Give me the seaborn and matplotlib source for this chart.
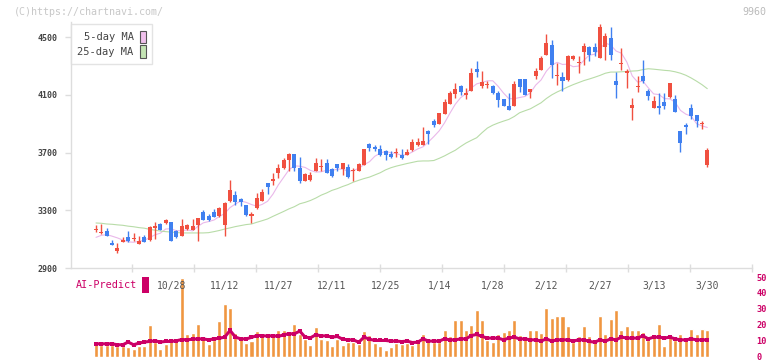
import numpy as np
import pandas as pd
import matplotlib
matplotlib.use("Agg")
import matplotlib.pyplot as plt
from matplotlib.patches import Patch, Rectangle
from matplotlib.ticker import FixedLocator, NullFormatter
import seaborn as sns

# ---- data (price in yen, volume / AI-Predict on 0-50 scale) ----
opens = [3160, 3146, 3153, 3074, 3015, 3079, 3113, 3102, 3063, 3116,
         3095, 3180, 3203, 3215, 3217, 3153, 3125, 3171, 3166, 3199,
         3290, 3258, 3290, 3258, 3201, 3362, 3405, 3378, 3336, 3258,
         3316, 3362, 3486, 3504, 3557, 3596, 3647, 3688, 3596, 3504,
         3509, 3573, 3603, 3631, 3585, 3619, 3585, 3603, 3573, 3573,
         3615, 3757, 3739, 3727, 3711, 3688, 3697, 3684, 3681, 3716,
         3750, 3753, 3849, 3922, 3895, 3964, 4038, 4109, 4164, 4102,
         4130, 4281, 4159, 4166, 4159, 4113, 4068, 4026, 4022, 4212,
         4212, 4120, 4228, 4274, 4378, 4447, 4233, 4221, 4201, 4348,
         4320, 4394, 4435, 4431, 4355, 4431, 4493, 4194, 4313, 4251,
         4009, 4153, 4228, 4130, 4009, 4022, 4052, 4084, 4068, 3849,
         3890, 4010, 3960, 3895, 3615]
highs = [3199, 3205, 3178, 3095, 3072, 3118, 3155, 3143, 3125, 3129,
         3190, 3216, 3210, 3240, 3222, 3164, 3240, 3206, 3240, 3247,
         3300, 3274, 3309, 3325, 3355, 3511, 3433, 3385, 3340, 3286,
         3417, 3451, 3486, 3555, 3619, 3661, 3697, 3693, 3670, 3557,
         3562, 3661, 3654, 3654, 3596, 3619, 3631, 3619, 3596, 3631,
         3723, 3769, 3753, 3753, 3716, 3711, 3734, 3723, 3723, 3792,
         3803, 3879, 3854, 3936, 3976, 4072, 4130, 4182, 4171, 4148,
         4286, 4332, 4267, 4194, 4171, 4125, 4072, 4114, 4194, 4212,
         4212, 4143, 4286, 4366, 4523, 4481, 4320, 4258, 4373, 4378,
         4366, 4458, 4442, 4458, 4589, 4527, 4573, 4256, 4424, 4281,
         4079, 4228, 4343, 4143, 4090, 4114, 4114, 4182, 4102, 3849,
         3906, 4040, 3960, 3918, 3730]
lows = [3148, 3137, 3120, 3056, 3003, 3079, 3079, 3088, 3063, 3079,
        3090, 3100, 3164, 3206, 3090, 3107, 3125, 3166, 3160, 3084,
        3235, 3228, 3251, 3255, 3125, 3360, 3337, 3332, 3258, 3212,
        3309, 3362, 3412, 3477, 3527, 3585, 3573, 3573, 3486, 3504,
        3504, 3573, 3573, 3555, 3532, 3569, 3546, 3527, 3504, 3569,
        3615, 3711, 3711, 3677, 3647, 3665, 3670, 3656, 3681, 3711,
        3746, 3753, 3762, 3877, 3895, 3964, 4038, 4079, 4102, 4072,
        4130, 4221, 4148, 4148, 4106, 4015, 4022, 3994, 4022, 4120,
        4097, 4079, 4212, 4274, 4378, 4217, 4171, 4125, 4194, 4339,
        4251, 4309, 4336, 4366, 4355, 4343, 4343, 4079, 4274, 4148,
        3929, 4120, 4182, 4061, 4009, 3968, 4000, 4079, 3980, 3704,
        3826, 3936, 3877, 3861, 3601]
closes = [3172, 3150, 3125, 3056, 3040, 3097, 3088, 3111, 3086, 3079,
          3185, 3190, 3166, 3231, 3090, 3114, 3189, 3199, 3194, 3247,
          3235, 3235, 3251, 3318, 3350, 3440, 3360, 3355, 3270, 3274,
          3382, 3424, 3463, 3516, 3592, 3647, 3688, 3596, 3504, 3550,
          3543, 3631, 3607, 3555, 3539, 3596, 3631, 3532, 3578, 3619,
          3723, 3730, 3723, 3684, 3684, 3670, 3707, 3661, 3707, 3776,
          3776, 3780, 3831, 3890, 3976, 4052, 4113, 4143, 4118, 4113,
          4252, 4256, 4189, 4178, 4113, 4061, 4022, 3994, 4178, 4153,
          4097, 4143, 4267, 4355, 4461, 4304, 4240, 4194, 4366, 4371,
          4327, 4440, 4373, 4396, 4573, 4511, 4373, 4166, 4320, 4267,
          4033, 4159, 4194, 4091, 4056, 4009, 4022, 4182, 3980, 3769,
          3879, 3952, 3922, 3902, 3716]
prev_closes = [3080, 3100, 3110, 3100]  # closes before the first visible day

ma25 = [3212, 3210, 3205, 3203, 3199, 3196, 3190, 3186, 3180, 3176,
        3168, 3162, 3156, 3152, 3149, 3146, 3143, 3143, 3143, 3143,
        3143, 3145, 3152, 3160, 3170, 3178, 3187, 3194, 3201, 3205,
        3217, 3228, 3240, 3258, 3275, 3292, 3310, 3325, 3345, 3355,
        3368, 3385, 3405, 3420, 3438, 3450, 3465, 3478, 3495, 3508,
        3520, 3530, 3545, 3560, 3580, 3595, 3606, 3615, 3624, 3632,
        3640, 3642, 3642, 3645, 3660, 3677, 3697, 3716, 3742, 3766,
        3785, 3803, 3838, 3870, 3890, 3905, 3918, 3930, 3950, 3976,
        3990, 4003, 4024, 4045, 4075, 4100, 4120, 4137, 4155, 4171,
        4185, 4199, 4210, 4222, 4235, 4250, 4258, 4258, 4260, 4262,
        4265, 4267, 4275, 4281, 4278, 4274, 4270, 4267, 4260, 4250,
        4236, 4217, 4195, 4171, 4143]

volume = [9.5, 7, 7, 7, 6.5, 6.5, 6, 5, 6.5, 6.5,
          20, 9, 5, 8, 10.5, 11.5, 49.5, 14.3, 15, 20.6,
          10.8, 8, 10.5, 22.3, 33.2, 30.7, 14.9, 11.1, 8.6, 9.5,
          15.8, 14.3, 14.9, 14.3, 16.4, 16.4, 14.3, 20.6, 14.3, 11.1,
          7.4, 18.5, 11.1, 10.5, 6.3, 11.1, 7.4, 9.0, 9.0, 7.6,
          15.8, 13.7, 8.4, 6.3, 4.2, 5.9, 8.4, 7.6, 8.4, 7.4,
          9.5, 14.3, 11.1, 9.0, 9.0, 16.8, 13.2, 23.1, 23.1, 16.4,
          20.0, 29.0, 23.1, 10.1, 9.0, 14.3, 15.7, 16.8, 23.1, 13.7,
          13.2, 16.4, 17.0, 14.9, 30.7, 24.4, 25.8, 25.8, 19.5, 9.0,
          13.2, 19.5, 12.6, 9.0, 25.8, 13.9, 23.3, 29.0, 16.4, 18.9,
          16.4, 16.4, 15.3, 10.1, 12.2, 20.2, 6.3, 13.9, 10.1, 14.3,
          10.1, 17.6, 14.3, 17.6, 16.4]
ai_predict = [8.0, 8.0, 8.0, 8.0, 7.4, 7.4, 9.1, 7.4, 8.4, 9.1,
              9.5, 9.9, 9.1, 9.5, 9.5, 9.9, 10.7, 10.5, 10.9, 11.1,
              11.1, 10.5, 11.1, 11.5, 12.2, 16.4, 12.2, 11.1, 11.1, 12.0,
              13.2, 13.2, 12.8, 13.2, 12.6, 13.7, 14.3, 14.3, 16.0, 12.2,
              11.8, 13.7, 13.0, 13.0, 12.2, 12.6, 10.9, 10.5, 10.5, 9.0,
              12.2, 10.9, 10.1, 10.1, 10.1, 9.7, 9.7, 9.4, 9.7, 8.8,
              9.0, 11.1, 9.7, 9.7, 9.7, 11.1, 10.5, 10.5, 11.1, 11.1,
              13.2, 13.9, 12.6, 11.6, 11.6, 11.6, 10.5, 11.6, 12.2, 11.1,
              11.1, 10.5, 10.5, 9.7, 11.1, 9.7, 10.5, 10.5, 10.5, 9.7,
              10.5, 10.5, 9.5, 9.0, 10.5, 9.7, 11.1, 10.5, 12.2, 11.6,
              11.6, 11.6, 13.0, 11.1, 12.2, 12.2, 11.6, 12.2, 11.1, 10.5,
              10.5, 11.1, 10.5, 10.5, 10.5]

date_labels = ['10/28', '11/12', '11/27', '12/11', '12/25', '1/14',
               '1/28', '2/12', '2/27', '3/13', '3/30']
date_pos = [14, 24, 34, 44, 54, 64, 74, 84, 94, 104, 114]
price_ticks = [2900, 3300, 3700, 4100, 4500]
ai_ticks = [0, 10, 20, 30, 40, 50]

# ---- frame ----
df = pd.DataFrame({'open': opens, 'high': highs, 'low': lows, 'close': closes,
                   'ma25': ma25, 'volume': volume, 'ai': ai_predict})
df['day'] = np.arange(len(df))
full_close = pd.Series(prev_closes + closes)
df['ma5'] = full_close.rolling(5).mean().iloc[len(prev_closes):].to_numpy()

sns.set_theme(style="white")
plt.rcParams['font.family'] = ['DejaVu Sans Mono', 'DejaVu Sans']

RED = '#f05040'
BLUE = '#4080f0'
PINK = '#eab8ea'
GREEN = '#b8dca8'
ORANGE = '#f09640'
CRIMSON = '#cc0066'
GRID = '#dddddd'

W, H = 772, 361
fig = plt.figure(figsize=(W / 100, H / 100), dpi=100)
fig.patch.set_facecolor('white')

x0, x1 = 70.7, 752
idx_per_px = 1 / 5.362
xlim = ((x0 - 96) * idx_per_px, (x1 - 96) * idx_per_px)

vbot = 356.5
ax = fig.add_axes([x0 / W, 1 - 268 / H, (x1 - x0) / W, (268 - 22) / H])
axv = fig.add_axes([x0 / W, 1 - vbot / H, (x1 - x0) / W, (52 * 1.588) / H])

# moving averages
sns.lineplot(data=df, x='day', y='ma5', color=PINK, lw=0.8, ax=ax, legend=False, zorder=1)
sns.lineplot(data=df, x='day', y='ma25', color=GREEN, lw=0.8, ax=ax, legend=False, zorder=1)

# candles
up = df['close'] >= df['open']
colors = np.where(up, RED, BLUE)
body_lo = df[['open', 'close']].min(axis=1)
body_h = (df['close'] - df['open']).abs().clip(lower=6)
ax.vlines(df['day'], df['low'], df['high'], colors=colors, lw=1.0, zorder=2)
ax.bar(df['day'], body_h, bottom=body_lo, width=0.75, color=colors, lw=0, zorder=3)

ax.set_xlim(*xlim)
ax.set_ylim(2909, 4605)
ax.set_xlabel('')
ax.set_ylabel('')
for s in ['top', 'right']:
    ax.spines[s].set_visible(False)
for s in ['left', 'bottom']:
    ax.spines[s].set_color(GRID)
    ax.spines[s].set_linewidth(1.0)

ax.set_yticks(price_ticks)
ax.set_yticklabels([str(v) for v in price_ticks])
ax.tick_params(axis='y', direction='out', length=4.3, width=1, color=GRID,
               labelcolor='#444444', labelsize=6, pad=5, left=True)
for t in ax.get_yticklabels():
    t.set_fontweight('bold')
ax.xaxis.set_major_locator(FixedLocator(date_pos))
ax.set_xticklabels(date_labels)
ax.tick_params(axis='x', which='major', length=0, pad=9, labelsize=7,
               labelcolor='#555555', bottom=True)
minor = [(70 + 62 * k - 96) * idx_per_px for k in range(12)]
ax.xaxis.set_minor_locator(FixedLocator(minor))
ax.xaxis.set_minor_formatter(NullFormatter())
ax.tick_params(axis='x', which='minor', direction='inout', length=6, width=1,
               color=GRID, bottom=True)

leg = ax.legend(handles=[Patch(facecolor='#f0c0ec', edgecolor='#555555', lw=0.8),
                         Patch(facecolor='#c4e4b4', edgecolor='#555555', lw=0.8)],
                labels=['5-day MA', '25-day MA'],
                loc='upper left', bbox_to_anchor=(x0 / W, 1 - 24 / H),
                bbox_transform=fig.transFigure, borderaxespad=0,
                markerfirst=False, handlelength=0.55, handleheight=1.45,
                handletextpad=0.6, borderpad=0.65, labelspacing=0.2,
                fancybox=False, frameon=True, edgecolor=GRID,
                fontsize=7.5, labelcolor='#444444')
leg.get_frame().set_linewidth(1.0)

# volume + AI-Predict panel
sns.barplot(data=df, x='day', y='volume', native_scale=True, color=ORANGE,
            saturation=1, width=0.75, errorbar=None, ax=axv, zorder=1)
sns.lineplot(data=df, x='day', y='ai', color=CRIMSON, lw=2.2, marker='s',
             markersize=2.6, markeredgewidth=0, ax=axv, legend=False, zorder=2)
axv.set_xlim(*xlim)
axv.set_ylim(0, 52)
axv.set_xlabel('')
axv.set_ylabel('')
axv.set_xticks([])
for s in axv.spines.values():
    s.set_visible(False)
axv.yaxis.tick_right()
axv.set_yticks(ai_ticks)
axv.set_yticklabels([str(v) for v in ai_ticks])
axv.tick_params(axis='y', length=0, pad=3, labelsize=6.2, labelcolor=CRIMSON)
for t in axv.get_yticklabels():
    t.set_fontweight('bold')
axv.patch.set_alpha(0)
ax.set_zorder(axv.get_zorder() + 1)
ax.patch.set_alpha(0)

# texts
fig.text(14 / W, 1 - 12 / H, '(C)https://chartnavi.com/', color='#c8c8c8',
         fontsize=7.2, va='center', ha='left')
fig.text(766 / W, 1 - 12 / H, '9960', color='#bbbbbb', fontsize=7.2,
         va='center', ha='right')
fig.text(76 / W, 1 - 285 / H, 'AI-Predict', color=CRIMSON, fontsize=7.3,
         va='center', ha='left')
fig.add_artist(Rectangle((142 / W, 1 - 293 / H), 7 / W, 16 / H,
                         transform=fig.transFigure, color=CRIMSON, lw=0))

fig.savefig('out.png', dpi=100)
